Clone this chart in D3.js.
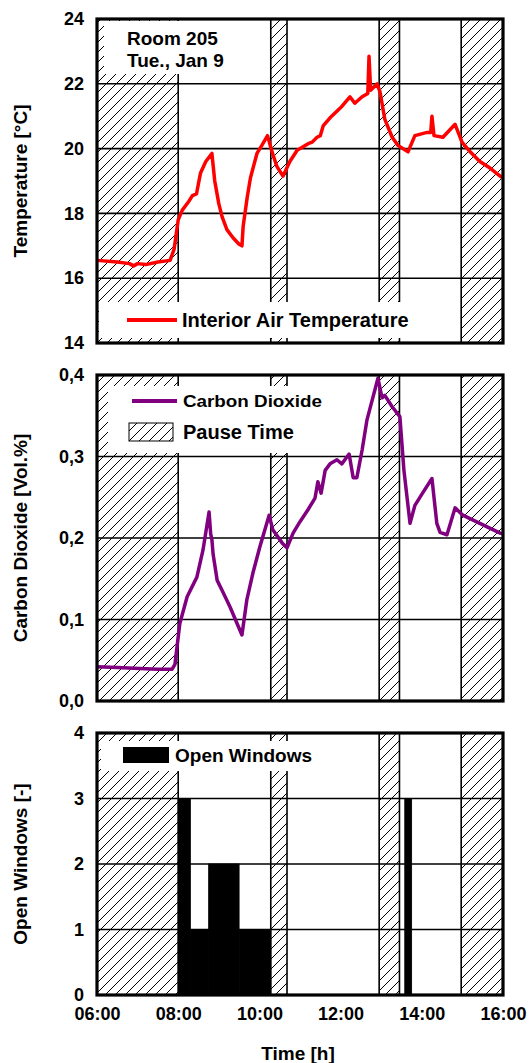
<!DOCTYPE html>
<html>
<head>
<meta charset="utf-8">
<script src="https://cdn.jsdelivr.net/npm/d3@7"></script>
<style>
  html, body { margin: 0; padding: 0; background: #fff; }
  svg { display: block; }
  text { font-family: "Liberation Sans", Arial, sans-serif; font-weight: bold; fill: #000; }
</style>
</head>
<body>
<div id="chart"></div>
<script>
// ---------- data ----------
const xTicks = [6, 8, 10, 12, 14, 16];
const xTickLabels = ["06:00", "08:00", "10:00", "12:00", "14:00", "16:00"];

const pauseStart = [6.0, 10.28, 12.95, 14.97];
const pauseEnd   = [8.0, 10.68, 13.45, 16.0];

const tempTime = [6.0, 6.5, 6.8, 6.9, 7.0, 7.2, 7.5, 7.8, 7.9, 8.0, 8.1, 8.25, 8.35, 8.45, 8.55, 8.68, 8.83, 8.9, 9.0, 9.08, 9.2, 9.35, 9.5, 9.57, 9.6, 9.7, 9.78, 9.94, 10.06, 10.2, 10.3, 10.43, 10.58, 10.75, 10.93, 11.2, 11.3, 11.42, 11.5, 11.57, 11.74, 12.03, 12.23, 12.35, 12.53, 12.67, 12.7, 12.74, 12.9, 12.97, 13.09, 13.27, 13.41, 13.66, 13.83, 14.13, 14.22, 14.25, 14.3, 14.52, 14.82, 14.99, 15.19, 15.43, 15.68, 15.93, 16.0];
const tempValue = [16.55, 16.5, 16.45, 16.38, 16.45, 16.42, 16.5, 16.55, 16.9, 17.8, 18.1, 18.35, 18.55, 18.6, 19.25, 19.6, 19.85, 19.0, 18.3, 17.9, 17.5, 17.25, 17.05, 17.0, 17.6, 18.5, 19.1, 19.85, 20.1, 20.4, 19.95, 19.45, 19.15, 19.6, 19.95, 20.15, 20.2, 20.35, 20.4, 20.7, 20.95, 21.3, 21.6, 21.4, 21.6, 21.7, 22.85, 21.8, 22.0, 21.75, 20.9, 20.35, 20.1, 19.9, 20.4, 20.5, 20.5, 21.0, 20.4, 20.35, 20.75, 20.2, 19.9, 19.6, 19.4, 19.15, 19.1];
const tempTicks = [14, 16, 18, 20, 22, 24];

const co2Time = [6.0, 6.5, 7.06, 7.5, 7.85, 7.92, 8.04, 8.22, 8.46, 8.61, 8.76, 8.8, 8.83, 8.86, 8.96, 9.08, 9.28, 9.57, 9.69, 9.84, 10.01, 10.24, 10.33, 10.56, 10.68, 10.83, 11.0, 11.2, 11.37, 11.44, 11.52, 11.62, 11.74, 11.91, 12.03, 12.21, 12.31, 12.4, 12.53, 12.65, 12.92, 13.02, 13.09, 13.27, 13.46, 13.56, 13.71, 13.83, 14.03, 14.25, 14.37, 14.45, 14.62, 14.82, 15.01, 15.43, 15.93, 16.0];
const co2Value = [0.042, 0.041, 0.040, 0.039, 0.039, 0.045, 0.095, 0.128, 0.152, 0.185, 0.232, 0.205, 0.198, 0.18, 0.148, 0.136, 0.115, 0.081, 0.124, 0.157, 0.189, 0.228, 0.21, 0.194, 0.188, 0.206, 0.22, 0.235, 0.249, 0.269, 0.255, 0.283, 0.291, 0.296, 0.291, 0.303, 0.274, 0.274, 0.308, 0.345, 0.396, 0.372, 0.375, 0.361, 0.349, 0.283, 0.218, 0.24, 0.256, 0.273, 0.218, 0.207, 0.204, 0.237, 0.228, 0.218, 0.206, 0.205];
const co2Ticks = [0, 0.1, 0.2, 0.3, 0.4];
const co2TickLabels = ["0,0", "0,1", "0,2", "0,3", "0,4"];

const windowStart = [8.0, 8.3, 8.75, 9.5, 13.58];
const windowEnd   = [8.3, 8.75, 9.5, 10.28, 13.75];
const windowCount = [3, 1, 2, 1, 3];
const windowTicks = [0, 1, 2, 3, 4];

// ---------- layout ----------
const W = 531, H = 1063;
const X0 = 97, X1 = 503;
const svg = d3.select("#chart").append("svg").attr("width", W).attr("height", H);

const defs = svg.append("defs");
const pat = defs.append("pattern").attr("id", "hatch")
  .attr("patternUnits", "userSpaceOnUse").attr("width", 10).attr("height", 10);
pat.append("path").attr("d", "M0,10 L10,0 M-2.5,2.5 L2.5,-2.5 M7.5,12.5 L12.5,7.5")
  .attr("stroke", "#000").attr("stroke-width", 1).attr("fill", "none");

const x = d3.scaleLinear().domain([6, 16]).range([X0, X1]);

const panels = [
  { top: 19, bottom: 343, domain: [14, 24], ticks: tempTicks, fmt: d => String(d) },
  { top: 375, bottom: 701, domain: [0, 0.4], ticks: co2Ticks, fmt: (d, i) => co2TickLabels[i] },
  { top: 733, bottom: 995, domain: [0, 4], ticks: windowTicks, fmt: d => String(d) }
];
panels.forEach(p => { p.y = d3.scaleLinear().domain(p.domain).range([p.bottom, p.top]); });

function drawPanel(p, idx, boxes, drawData) {
  const g = svg.append("g");
  g.append("rect").attr("x", X0).attr("y", p.top).attr("width", X1 - X0).attr("height", p.bottom - p.top).attr("fill", "#fff");
  g.selectAll("rect.band").data(pauseStart.map((s, i) => [s, pauseEnd[i]])).enter()
    .append("rect").attr("class", "band")
    .attr("x", d => x(d[0])).attr("width", d => x(d[1]) - x(d[0]))
    .attr("y", p.top).attr("height", p.bottom - p.top)
    .attr("fill", "url(#hatch)").attr("stroke", "#000").attr("stroke-width", 1.6);
  g.selectAll("line.grid").data(p.ticks.slice(1, -1)).enter().append("line")
    .attr("x1", X0).attr("x2", X1).attr("y1", d => p.y(d)).attr("y2", d => p.y(d))
    .attr("stroke", "#000").attr("stroke-width", 1.6);
  boxes.forEach(b => g.append("rect").attr("x", b[0]).attr("y", b[1]).attr("width", b[2]).attr("height", b[3]).attr("fill", "#fff"));
  drawData(g, p);
  g.append("rect").attr("x", X0).attr("y", p.top).attr("width", X1 - X0).attr("height", p.bottom - p.top)
    .attr("fill", "none").attr("stroke", "#000").attr("stroke-width", 3.2);
  const ax = g.append("g").attr("transform", `translate(${X0},0)`)
    .call(d3.axisLeft(p.y).tickValues(p.ticks).tickFormat(p.fmt).tickSize(0).tickPadding(13));
  ax.select(".domain").remove();
  ax.selectAll("text").style("font-size", "18px").style("font-family", '"Liberation Sans", Arial, sans-serif').style("font-weight", "bold");
}

// Panel 1: temperature
drawPanel(panels[0], 0, [[104, 21, 130, 53], [99, 302, 345, 36]], (g, p) => {
  const line = d3.line().x((d, i) => x(tempTime[i])).y(d => p.y(d));
  g.append("path").datum(tempValue).attr("d", line).attr("fill", "none")
    .attr("stroke", "#ff0000").attr("stroke-width", 3.5).attr("stroke-linejoin", "round");
  g.append("text").attr("x", 127).attr("y", 45).style("font-size", "19px").text("Room 205");
  g.append("text").attr("x", 127).attr("y", 67).style("font-size", "19px").text("Tue., Jan 9");
  g.append("line").attr("x1", 127).attr("x2", 177).attr("y1", 320).attr("y2", 320)
    .attr("stroke", "#ff0000").attr("stroke-width", 4);
  g.append("text").attr("x", 182).attr("y", 327).style("font-size", "20px").text("Interior Air Temperature");
});

// Panel 2: CO2
drawPanel(panels[1], 1, [[108, 386, 268, 67]], (g, p) => {
  const line = d3.line().x((d, i) => x(co2Time[i])).y(d => p.y(d));
  g.append("path").datum(co2Value).attr("d", line).attr("fill", "none")
    .attr("stroke", "#800080").attr("stroke-width", 3.5).attr("stroke-linejoin", "round");
  g.append("line").attr("x1", 132).attr("x2", 177).attr("y1", 401).attr("y2", 401)
    .attr("stroke", "#800080").attr("stroke-width", 4);
  g.append("text").attr("x", 183).attr("y", 407).style("font-size", "16px")
    .attr("textLength", 139).attr("lengthAdjust", "spacingAndGlyphs").text("Carbon Dioxide");
  g.append("rect").attr("x", 129).attr("y", 423).attr("width", 44).attr("height", 18)
    .attr("fill", "url(#hatch)").attr("stroke", "#000").attr("stroke-width", 1);
  g.append("text").attr("x", 183).attr("y", 439).style("font-size", "20px").text("Pause Time");
});

// Panel 3: windows
drawPanel(panels[2], 2, [[101, 741, 275, 30]], (g, p) => {
  g.selectAll("rect.win").data(windowCount).enter().append("rect").attr("class", "win")
    .attr("x", (d, i) => x(windowStart[i])).attr("width", (d, i) => x(windowEnd[i]) - x(windowStart[i]))
    .attr("y", d => p.y(d)).attr("height", d => p.y(0) - p.y(d))
    .attr("fill", "#000").attr("stroke", "#000").attr("stroke-width", 0.8);
  g.append("rect").attr("x", 123).attr("y", 747).attr("width", 46).attr("height", 16).attr("fill", "#000");
  g.append("text").attr("x", 175).attr("y", 762).style("font-size", "19px").text("Open Windows");
});

// x axis
const xa = svg.append("g").attr("transform", `translate(0,${panels[2].bottom})`)
  .call(d3.axisBottom(x).tickValues(xTicks).tickFormat((d, i) => xTickLabels[i]).tickSize(0).tickPadding(12));
xa.select(".domain").remove();
xa.selectAll("text").style("font-size", "18px").style("font-family", '"Liberation Sans", Arial, sans-serif').style("font-weight", "bold");

// axis titles
const titles = [["Temperature [°C]", 181], ["Carbon Dioxide [Vol.%]", 538], ["Open Windows [-]", 864]];
titles.forEach(t => {
  svg.append("text").attr("transform", `translate(27,${t[1]}) rotate(-90)`)
    .attr("text-anchor", "middle").style("font-size", "19px").text(t[0]);
});
svg.append("text").attr("x", 298).attr("y", 1060).attr("text-anchor", "middle").style("font-size", "19px").text("Time [h]");
</script>
</body>
</html>
